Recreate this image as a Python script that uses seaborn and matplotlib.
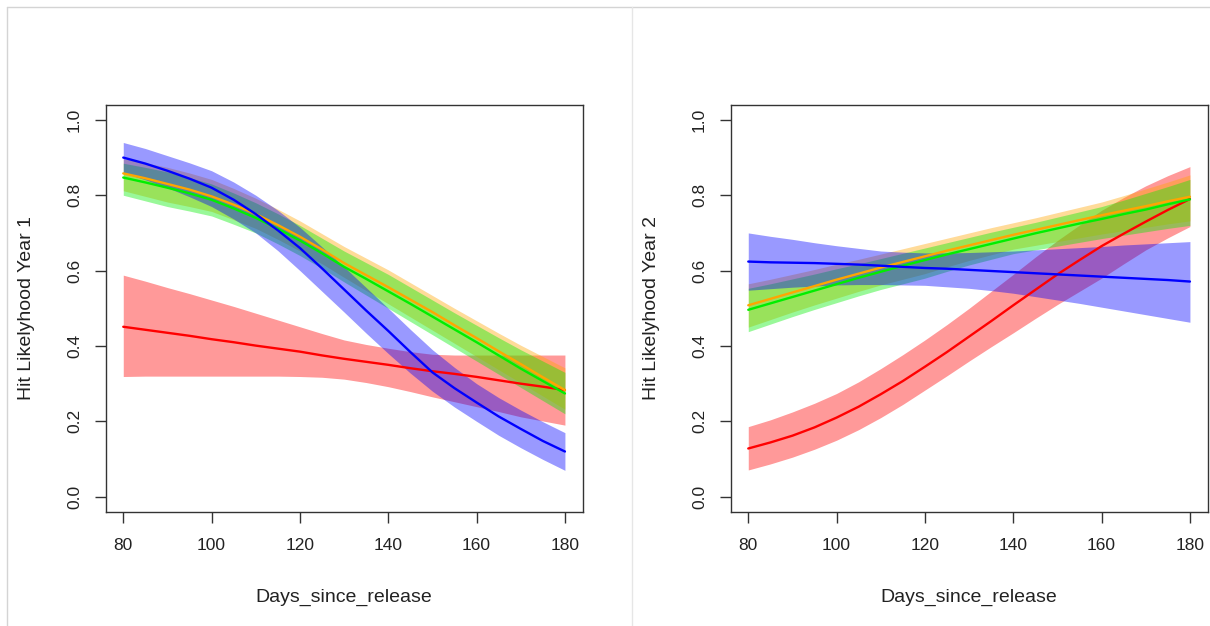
import numpy as np
import pandas as pd
import matplotlib
matplotlib.use("Agg")
import matplotlib.pyplot as plt
from matplotlib.lines import Line2D
import seaborn as sns

# ---------------- data ----------------
days = [80, 85, 90, 95, 100, 105, 110, 115, 120, 125, 130,
        135, 140, 145, 150, 155, 160, 165, 170, 175, 180]
series_names = ["red", "orange", "green", "blue"]
series_colors = {"red": "#ff0000", "orange": "#ffa500", "green": "#00ee00", "blue": "#0000ff"}

# Year 1
red_mean_y1 = [.451, .443, .435, .427, .418, .410, .401, .393, .385, .375, .366,
               .358, .350, .341, .333, .326, .318, .309, .300, .292, .283]
red_lo_y1 = [.319, .320, .320, .320, .320, .320, .320, .320, .319, .317, .312,
             .303, .292, .279, .265, .252, .239, .226, .212, .201, .190]
red_hi_y1 = [.588, .572, .555, .539, .522, .505, .487, .469, .451, .433, .416,
             .404, .394, .385, .378, .376, .376, .376, .376, .376, .376]
orange_mean_y1 = [.858, .845, .830, .815, .797, .775, .750, .721, .690, .656, .620,
                  .588, .556, .523, .490, .455, .421, .386, .352, .317, .283]
orange_lo_y1 = [.812, .797, .782, .770, .757, .735, .712, .683, .652, .618, .582,
                .547, .512, .477, .442, .407, .372, .337, .302, .267, .232]
orange_hi_y1 = [.897, .886, .874, .859, .842, .818, .792, .763, .732, .698, .664,
                .633, .602, .568, .534, .500, .467, .434, .402, .372, .342]
green_mean_y1 = [.847, .834, .820, .805, .788, .765, .740, .711, .680, .646, .610,
                 .578, .545, .512, .478, .444, .410, .375, .340, .307, .274]
green_lo_y1 = [.800, .785, .770, .758, .745, .723, .700, .671, .640, .606, .570,
               .535, .500, .465, .430, .395, .360, .325, .290, .255, .220]
green_hi_y1 = [.885, .874, .862, .847, .830, .806, .780, .751, .720, .686, .652,
               .621, .590, .556, .522, .488, .455, .422, .390, .360, .330]
blue_mean_y1 = [.900, .884, .865, .844, .820, .788, .750, .707, .660, .606, .550,
                .494, .440, .384, .330, .288, .250, .213, .180, .148, .120]
blue_lo_y1 = [.860, .841, .820, .796, .770, .737, .700, .653, .600, .545, .490,
              .434, .380, .328, .280, .238, .200, .163, .130, .099, .070]
blue_hi_y1 = [.940, .924, .905, .886, .865, .835, .800, .760, .715, .663, .610,
              .555, .500, .444, .390, .343, .300, .263, .230, .199, .170]

# Year 2
red_mean_y2 = [.128, .144, .162, .184, .210, .239, .272, .307, .345, .384, .425,
               .466, .508, .549, .590, .628, .665, .698, .730, .761, .790]
red_lo_y2 = [.071, .087, .105, .126, .150, .178, .210, .245, .283, .321, .360,
             .398, .435, .473, .510, .545, .580, .618, .655, .687, .717]
red_hi_y2 = [.186, .204, .225, .248, .274, .305, .340, .377, .416, .457, .500,
             .545, .590, .636, .680, .721, .760, .794, .825, .852, .876]
orange_mean_y2 = [.508, .525, .542, .559, .576, .592, .608, .623, .638, .653, .667,
                  .681, .695, .708, .721, .734, .747, .759, .771, .784, .796]
orange_lo_y2 = [.450, .470, .490, .509, .527, .545, .562, .577, .592, .610, .627,
                .642, .657, .667, .677, .687, .697, .706, .715, .724, .732]
orange_hi_y2 = [.565, .577, .590, .603, .617, .630, .644, .658, .672, .686, .700,
                .714, .727, .740, .754, .768, .782, .799, .817, .835, .854]
green_mean_y2 = [.496, .513, .530, .547, .564, .581, .597, .613, .628, .643, .657,
                 .671, .685, .699, .712, .725, .737, .750, .762, .776, .789]
green_lo_y2 = [.438, .458, .478, .497, .515, .533, .550, .565, .580, .598, .615,
               .630, .645, .655, .665, .675, .685, .694, .703, .712, .720]
green_hi_y2 = [.553, .565, .578, .591, .605, .618, .632, .646, .660, .674, .688,
               .702, .715, .728, .742, .756, .770, .787, .805, .823, .842]
blue_mean_y2 = [.624, .622, .621, .620, .618, .616, .613, .610, .607, .605, .602,
                .599, .596, .593, .590, .587, .584, .581, .578, .575, .571]
blue_lo_y2 = [.548, .552, .556, .559, .562, .563, .563, .562, .561, .557, .553,
              .547, .540, .531, .522, .513, .503, .493, .483, .473, .463]
blue_hi_y2 = [.700, .691, .683, .674, .666, .659, .652, .649, .647, .647, .648,
              .650, .652, .655, .658, .661, .664, .668, .671, .674, .677]

x_ticks = [80, 100, 120, 140, 160, 180]
y_ticks = [0.0, 0.2, 0.4, 0.6, 0.8, 1.0]
y_tick_labels = ["0.0", "0.2", "0.4", "0.6", "0.8", "1.0"]
x_label = "Days_since_release"
y_labels = ["Hit Likelyhood Year 1", "Hit Likelyhood Year 2"]

panels = [
    {
        "red": (red_mean_y1, red_lo_y1, red_hi_y1),
        "orange": (orange_mean_y1, orange_lo_y1, orange_hi_y1),
        "green": (green_mean_y1, green_lo_y1, green_hi_y1),
        "blue": (blue_mean_y1, blue_lo_y1, blue_hi_y1),
    },
    {
        "red": (red_mean_y2, red_lo_y2, red_hi_y2),
        "orange": (orange_mean_y2, orange_lo_y2, orange_hi_y2),
        "green": (green_mean_y2, green_lo_y2, green_hi_y2),
        "blue": (blue_mean_y2, blue_lo_y2, blue_hi_y2),
    },
]

# ---------------- style ----------------
sns.set_theme(style="white")
plt.rcParams["font.family"] = ["Liberation Sans", "DejaVu Sans"]
text_color = "#222222"
frame_color = "#333333"
tick_fs = 12.5
label_fs = 14

W, H = 1210, 626
fig = plt.figure(figsize=(W / 100, H / 100), dpi=100)
fig.patch.set_facecolor("white")

ax_w = 477 / W
ax_h = 407 / H
ax_b = (H - 511.8) / H
lefts = [105.6 / W, 730.6 / W]

for i, (pdata, left) in enumerate(zip(panels, lefts)):
    ax = fig.add_axes([left, ax_b, ax_w, ax_h])
    ax.set_facecolor("white")
    # confidence bands
    for name in series_names:
        mean, lo, hi = pdata[name]
        ax.fill_between(days, lo, hi, color=series_colors[name], alpha=0.4, lw=0, zorder=1)
    # mean lines
    df = pd.concat(
        [pd.DataFrame({"days": days, "p": pdata[n][0], "series": n}) for n in series_names],
        ignore_index=True,
    )
    sns.lineplot(data=df, x="days", y="p", hue="series", hue_order=series_names,
                 palette=series_colors, linewidth=1.7, legend=False, ax=ax, zorder=3,
                 estimator=None, sort=True)

    ax.set_xlim(76, 184)
    ax.set_ylim(-0.04, 1.04)
    ax.set_xticks(x_ticks)
    ax.set_xticklabels([str(t) for t in x_ticks])
    ax.set_yticks(y_ticks)
    ax.set_yticklabels(y_tick_labels, rotation=90, va="center")
    ax.tick_params(axis="both", which="major", direction="out", length=8, width=1.0,
                   color=frame_color, labelcolor=text_color, labelsize=tick_fs, pad=9,
                   left=True, bottom=True)
    ax.tick_params(axis="x", pad=11)
    for sp in ax.spines.values():
        sp.set_visible(True)
        sp.set_color(frame_color)
        sp.set_linewidth(1.0)
    ax.set_xlabel(x_label, fontsize=label_fs, color=text_color)
    ax.set_ylabel(y_labels[i], fontsize=label_fs, color=text_color)
    ax.xaxis.set_label_coords(0.5, -0.19)
    ax.yaxis.set_label_coords(-0.148, 0.5)
    ax.grid(False)

# light grey screenshot frame and divider
border = "#d4d4d4"
fig.add_artist(Line2D([7 / W, 1.0], [1 - 7 / H, 1 - 7 / H], transform=fig.transFigure, color=border, lw=1.0))
fig.add_artist(Line2D([7 / W, 7 / W], [0.0, 1 - 7 / H], transform=fig.transFigure, color=border, lw=1.0))
fig.add_artist(Line2D([632 / W, 632 / W], [0.0, 1 - 7 / H], transform=fig.transFigure, color="#e6e6e6", lw=1.0))

fig.savefig("out.png", dpi=100, facecolor="white")
